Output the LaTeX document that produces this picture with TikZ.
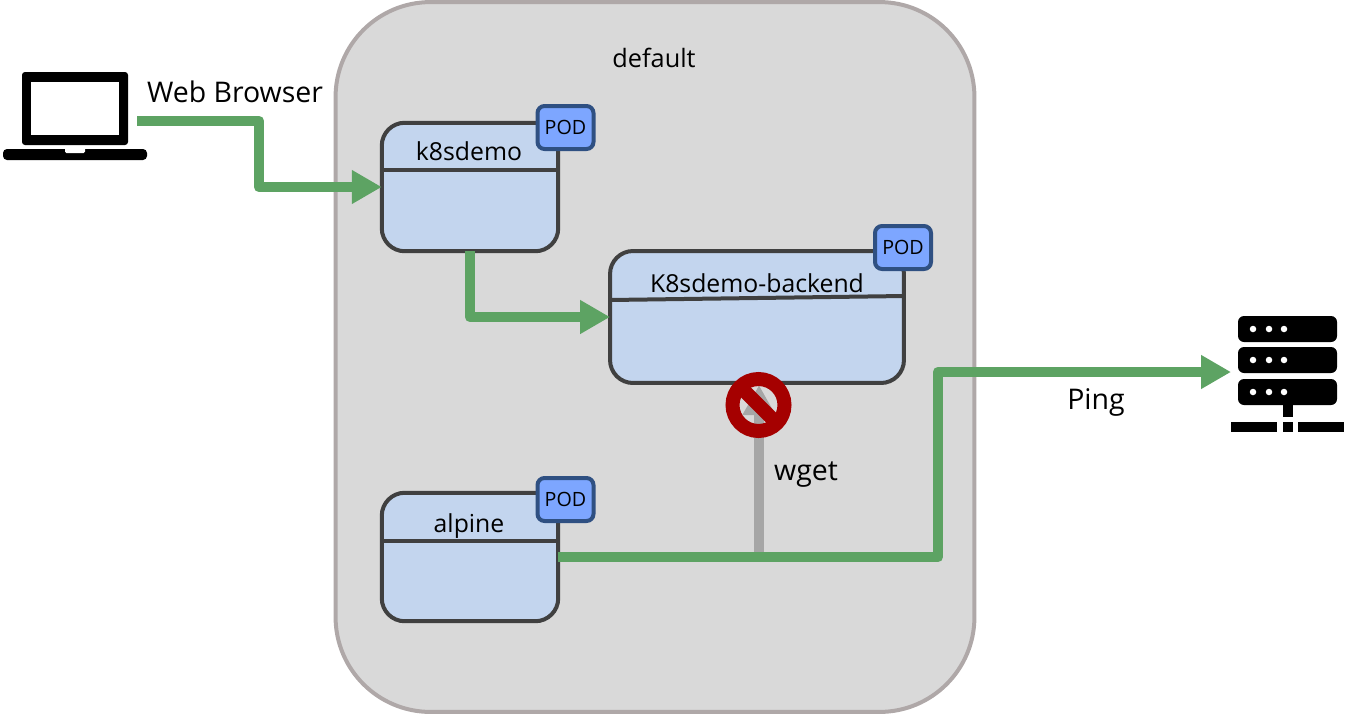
\documentclass[tikz,border=0pt]{standalone}
\usepackage{fontspec}
\setmainfont{Open Sans}
\usepackage{xcolor}
\usetikzlibrary{arrows.meta}
\definecolor{flowgreen}{HTML}{5DA363}
\definecolor{blockgray}{HTML}{A6A6A6}
\definecolor{nsfill}{HTML}{D9D9D9}
\definecolor{nsline}{HTML}{AFA8A8}
\definecolor{bodyfill}{HTML}{C3D5EE}
\definecolor{bodyline}{HTML}{404040}
\definecolor{podfill}{HTML}{7DA6FF}
\definecolor{podline}{HTML}{2F5082}
\definecolor{stopred}{HTML}{A50000}
\tikzset{
	every picture/.style={line width=0.75pt},
	namespace/.style={draw=nsline,fill=nsfill,line width=0.08cm,rounded corners=1.9cm,minimum width=12.78cm,minimum height=14.2cm},
	podbody/.style={draw=bodyline,fill=bodyfill,line width=0.08cm,outer sep=0pt,rounded corners=0.46cm,minimum width=3.53cm,minimum height=2.57cm},
	podtag/.style={draw=podline,fill=podfill,line width=0.08cm,rounded corners=0.14cm,minimum width=1.12cm,minimum height=0.86cm,inner sep=0pt,font=\fontsize{11.2}{14}\selectfont},
	textlabel/.style={inner sep=0pt,font=\fontsize{16.2}{18}\selectfont},
	boxlabel/.style={inner sep=0pt,font=\fontsize{14.1}{18}\selectfont},
	divider/.style={draw=bodyline,line width=0.08cm},
	flow/.style={draw=flowgreen,line width=0.21cm,line join=round,-{Triangle[length=0.6cm,width=0.64cm]}},
	blocked/.style={draw=blockgray,line width=0.21cm,-{Triangle[length=0.6cm,width=0.62cm]}}
}
\begin{document}
\begin{tikzpicture}[x=0.02cm,y=-0.02cm]
\useasboundingbox (0,0) rectangle (1362,714);
%
\node (default) [namespace] at (655,357) {};
\node (defaultlabel) [boxlabel,font=\fontsize{14.4}{18}\selectfont] at (654,58) {default};
%
\node (k8sdemo) [podbody] at (470,187) {};
\node (backend) [podbody,minimum width=5.88cm,minimum height=2.64cm] at (757,317) {};
\node (alpine) [podbody] at (470,557) {};
%
\node (k8sdemolabel) [boxlabel] at (469,151) {k8sdemo};
\node (backendlabel) [boxlabel] at (757,283) {K8sdemo-backend};
\node (alpinelabel) [boxlabel] at (469,526) {alpine};
%
\draw [divider] (k8sdemo.west |- 0,170) -- (k8sdemo.east |- 0,170);
\draw [divider] (backend.west |- 0,300) -- (backend.east |- 0,296);
\draw [divider] (alpine.west |- 0,541) -- (alpine.east |- 0,541);
%
\foreach \Name/\Pos in {%
	pod1/{565.5,127.5},
	pod2/{903,247.5},
	pod3/{565.5,499.5}%
    }
\node (\Name) [podtag] at (\Pos) {POD};
%
% laptop
\fill [black,rounded corners=0.06cm] (22,72) rectangle (128,145);
\fill [white] (31,82) rectangle (119,135);
\fill [black,rounded corners=0.08cm] (3,149) rectangle (147,160);
\fill [white,rounded corners=0.03cm] (65,147) rectangle (85,153);
\coordinate (laptopout) at (137,121);
\coordinate (browserbend) at (259,154);
\node (browserlabel) [textlabel] at (235,92) {Web Browser};
%
% server
\foreach \Top in {316,347,379} {
	\fill [black,rounded corners=0.12cm] (1238,\Top) rectangle (1337,\Top+26);
	\foreach \Dot in {1253,1269,1284}
		\fill [white] (\Dot,\Top+13) circle (0.065cm);
}
\fill [black] (1283,404) rectangle (1293,417);
\fill [black] (1231,422) rectangle (1277,432);
\fill [black] (1283,422) rectangle (1293,432);
\fill [black] (1298,422) rectangle (1344,432);
\coordinate (serverin) at (1231,372);
\node (pinglabel) [textlabel] at (1096,402) {Ping};
%
% connectors
\coordinate (wgetfoot) at (759,558);
\coordinate (wgettip) at (759,385);
\coordinate (pingbend) at (938,465);
\draw [blocked] (wgetfoot) -- (wgettip);
\draw [flow] (laptopout) -| (browserbend) |- (k8sdemo.west);
\draw [flow] (k8sdemo.south) |- (backend.west);
\draw [flow] (alpine.east) -| (pingbend) |- (serverin);
\node (wgetlabel) [textlabel] at (806,475) {wget};
%
% stop sign
\coordinate (stop) at (758.5,405);
\draw [stopred,line width=0.28cm] (stop) circle (0.52cm);
\draw [stopred,line width=0.28cm] (stop) ++(-20,-20) -- ++(40,40);
\end{tikzpicture}
\end{document}
